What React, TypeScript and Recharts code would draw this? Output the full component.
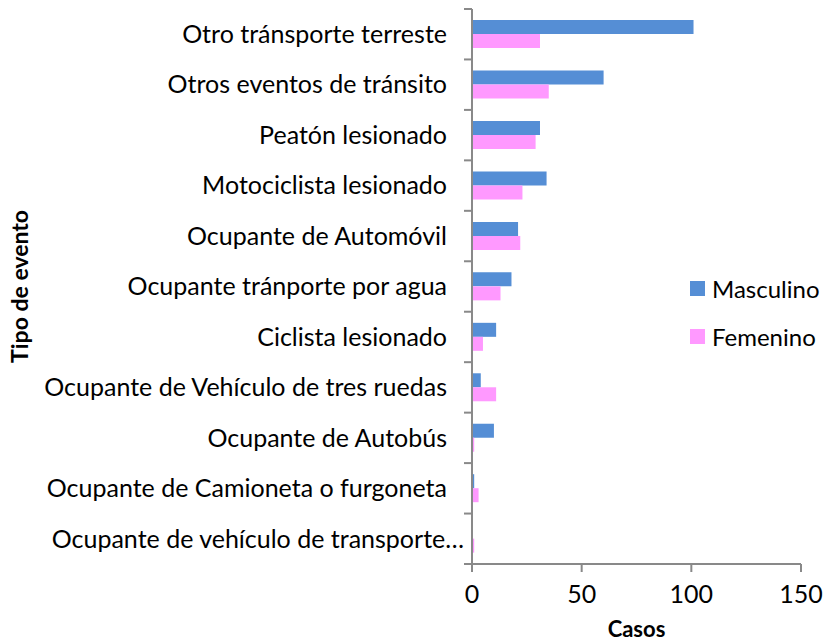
import { Bar, BarChart, Legend, XAxis, YAxis } from 'recharts';

const categories = [
  'Otro tránsporte terreste',
  'Otros eventos de tránsito',
  'Peatón lesionado',
  'Motociclista lesionado',
  'Ocupante de Automóvil',
  'Ocupante tránporte por agua',
  'Ciclista lesionado',
  'Ocupante de Vehículo de tres ruedas',
  'Ocupante de Autobús',
  'Ocupante de Camioneta o furgoneta',
  'Ocupante de vehículo de transporte…',
];
const masculino = [101, 60, 31, 34, 21, 18, 11, 4, 10, 1, 0];
const femenino = [31, 35, 29, 23, 22, 13, 5, 11, 1, 3, 1];
const seriesOrder = ['Masculino', 'Femenino'];
const xTicks = [0, 50, 100, 150];

const data = categories.map((name, i) => ({ name, Masculino: masculino[i], Femenino: femenino[i] }));

const FONT = 'Lato, sans-serif';
const FS = 25;
const AXIS = '#898989';
const BLUE = '#558ED5';
const PINK = '#FF99FF';

// Excel puts the category ticks between bands, so draw them from the band offset.
function CategoryTick(props: any) {
  const { x, y, payload, index } = props;
  const half = payload.offset ?? 0;
  const axisX = x + 25;
  // the clipped label runs up close to the axis, like Excel does
  const clipped = String(payload.value).endsWith('…');
  return (
    <g>
      <text x={clipped ? x + 17 : x} y={y} dy="0.35em" textAnchor="end" fontFamily={FONT} fontSize={FS} fill="#000">
        {payload.value}
      </text>
      <line x1={axisX - 8} x2={axisX} y1={y - half} y2={y - half} stroke={AXIS} strokeWidth={2} />
      {index === categories.length - 1 && (
        <line x1={axisX - 8} x2={axisX} y1={y + half} y2={y + half} stroke={AXIS} strokeWidth={2} />
      )}
    </g>
  );
}

function LegendBox(props: any) {
  const items = [...(props.payload || [])].sort(
    (a: any, b: any) => seriesOrder.indexOf(a.value) - seriesOrder.indexOf(b.value),
  );
  return (
    <div style={{ fontFamily: FONT, fontSize: FS - 1, color: '#000' }}>
      {items.map((it: any) => (
        <div key={it.value} style={{ display: 'flex', alignItems: 'center', height: 48 }}>
          <span style={{ width: 15, height: 15, background: it.color, marginRight: 7, display: 'inline-block' }} />
          {it.value}
        </div>
      ))}
    </div>
  );
}

export default function App() {
  return (
    <div style={{ position: 'absolute', left: 0, top: 0, background: '#fff' }}>
      <BarChart
        width={823}
        height={641}
        data={data}
        layout="vertical"
        margin={{ top: 9, right: 22, bottom: 0, left: 0 }}
        barCategoryGap="22%"
        barGap={0}
      >
        <XAxis
          type="number"
          domain={[0, 150]}
          ticks={xTicks}
          height={77}
          axisLine={{ stroke: AXIS, strokeWidth: 2 }}
          tickLine={{ stroke: AXIS, strokeWidth: 2 }}
          tickSize={8}
          tickMargin={13}
          tick={{ fontFamily: FONT, fontSize: FS, fill: '#000' }}
          label={{
            value: 'Casos',
            position: 'insideBottom',
            offset: 4,
            style: { fontFamily: FONT, fontSize: FS - 3, fontWeight: 'bold', fill: '#000' },
          }}
        />
        <YAxis
          type="category"
          dataKey="name"
          width={472}
          axisLine={{ stroke: AXIS, strokeWidth: 2 }}
          tickLine={false}
          tickSize={8}
          tickMargin={17}
          interval={0}
          tick={<CategoryTick />}
          label={{
            value: 'Tipo de evento',
            angle: -90,
            position: 'insideLeft',
            offset: 20,
            style: { textAnchor: 'middle', fontFamily: FONT, fontSize: FS - 2, fontWeight: 'bold', fill: '#000' },
          }}
        />
        <Legend
          layout="vertical"
          align="center"
          verticalAlign="middle"
          content={<LegendBox />}
          wrapperStyle={{ left: 690, top: 264, width: 140 }}
        />
        <Bar dataKey="Masculino" fill={BLUE} isAnimationActive={false} />
        <Bar dataKey="Femenino" fill={PINK} isAnimationActive={false} />
      </BarChart>
    </div>
  );
}
